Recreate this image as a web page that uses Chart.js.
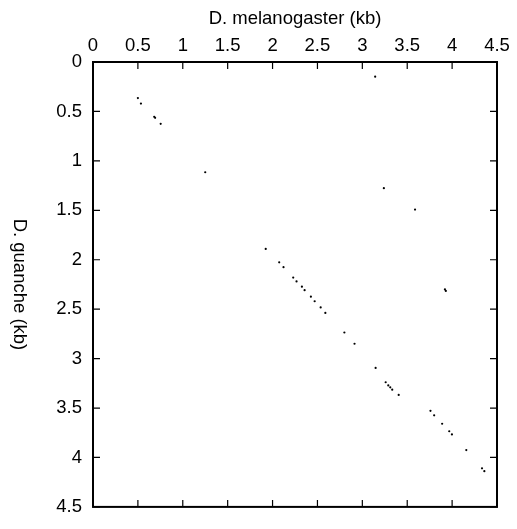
<!DOCTYPE html>
<html lang="en">
<head>
<meta charset="UTF-8">
<title>Dot plot</title>
<style>
  body { margin: 0; background: #fff; }
  #chart { display: block; }
</style>
</head>
<body>
<canvas id="chart" width="517" height="529"></canvas>
<script src="https://cdn.jsdelivr.net/npm/chart.js"></script>
<script>
// match positions: D. melanogaster (kb) vs D. guanche (kb)
const melanogaster = [
  0.50, 0.534, 0.682, 0.692, 0.754, 1.25, 3.143, 3.24, 3.587,
  1.924, 2.074, 2.122, 2.23, 2.267, 2.327, 2.357, 2.427, 2.469, 2.536, 2.588,
  2.80, 2.913, 3.148, 3.26, 3.289, 3.311, 3.333, 3.405,
  3.759, 3.80, 3.889, 3.968, 3.998, 4.158, 4.333, 4.359, 3.92, 3.93
];
const guanche = [
  0.365, 0.421, 0.555, 0.565, 0.625, 1.115, 0.148, 1.276, 1.493,
  1.891, 2.026, 2.075, 2.18, 2.219, 2.272, 2.308, 2.374, 2.42, 2.482, 2.538,
  2.736, 2.85, 3.094, 3.239, 3.271, 3.291, 3.314, 3.367,
  3.528, 3.574, 3.659, 3.735, 3.767, 3.925, 4.11, 4.139, 2.30, 2.315
];
const tickValues = [0, 0.5, 1, 1.5, 2, 2.5, 3, 3.5, 4, 4.5];
const xTitle = "D. melanogaster (kb)";
const yTitle = "D. guanche (kb)";

const FONT = "'Liberation Sans', Arial, Helvetica, sans-serif";
const FSIZE = 18.5;

const points = melanogaster.map((x, i) => ({ x: x, y: guanche[i] }));

// frame, inward ticks on all four sides, and axis titles
const framePlugin = {
  id: "frame",
  afterDraw(chart) {
    const { ctx, chartArea: a, scales } = chart;
    const tl = 7;
    ctx.save();
    ctx.strokeStyle = "#000";
    ctx.lineWidth = 1.2;
    ctx.beginPath();
    tickValues.forEach(v => {
      const px = scales.x.getPixelForValue(v);
      ctx.moveTo(px, a.top); ctx.lineTo(px, a.top + tl);
      ctx.moveTo(px, a.bottom); ctx.lineTo(px, a.bottom - tl);
      const py = scales.y.getPixelForValue(v);
      ctx.moveTo(a.left, py); ctx.lineTo(a.left + tl, py);
      ctx.moveTo(a.right, py); ctx.lineTo(a.right - tl, py);
    });
    ctx.stroke();
    ctx.lineWidth = 2;
    ctx.strokeRect(a.left, a.top, a.right - a.left, a.bottom - a.top);

    ctx.fillStyle = "#000";
    ctx.font = FSIZE + "px " + FONT;
    ctx.textAlign = "center";
    ctx.textBaseline = "middle";
    ctx.fillText(xTitle, (a.left + a.right) / 2, 19);
    ctx.translate(19.5, (a.top + a.bottom) / 2);
    ctx.rotate(Math.PI / 2);
    ctx.fillText(yTitle, 0, 0);
    ctx.restore();
  }
};

const fmt = v => String(v);

const ctx = document.getElementById("chart").getContext("2d");
new Chart(ctx, {
  type: "scatter",
  data: {
    datasets: [{
      data: points,
      pointRadius: 1.1,
      pointBorderWidth: 0,
      backgroundColor: "#000",
      borderColor: "#000"
    }]
  },
  options: {
    responsive: false,
    animation: false,
    layout: { padding: { left: 0, top: 0, right: 20, bottom: 11 } },
    plugins: { legend: { display: false }, tooltip: { enabled: false } },
    scales: {
      x: {
        type: "linear",
        position: "top",
        min: 0, max: 4.5,
        afterBuildTicks: s => { s.ticks = tickValues.map(v => ({ value: v })); },
        afterFit: s => { s.height = 62; },
        grid: { display: false, drawTicks: false },
        border: { display: false },
        ticks: { color: "#000", font: { size: FSIZE, family: FONT }, padding: 5, maxRotation: 0, callback: fmt }
      },
      y: {
        type: "linear",
        position: "left",
        reverse: true,
        min: 0, max: 4.5,
        afterBuildTicks: s => { s.ticks = tickValues.map(v => ({ value: v })); },
        afterFit: s => { s.width = 93; },
        grid: { display: false, drawTicks: false },
        border: { display: false },
        ticks: { color: "#000", font: { size: FSIZE, family: FONT }, padding: 11, callback: fmt }
      }
    }
  },
  plugins: [framePlugin]
});
</script>
</body>
</html>
